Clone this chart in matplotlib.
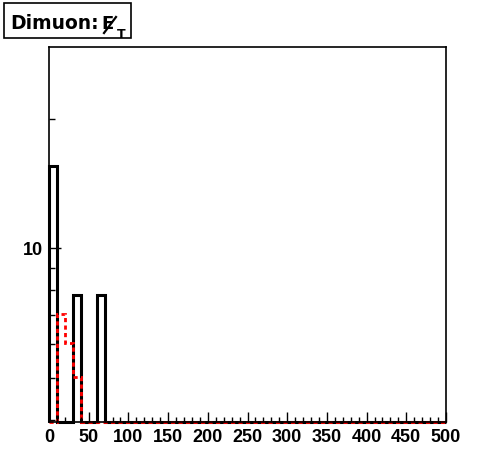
import matplotlib.pyplot as plt
import matplotlib.patches as patches
from matplotlib.lines import Line2D
from matplotlib.ticker import FixedLocator, NullFormatter, FixedFormatter
import numpy as np

plt.rcParams['font.family'] = ['Liberation Sans', 'DejaVu Sans']
plt.rcParams['font.weight'] = 'bold'

# ヒストグラムのデータ（ビン幅10、0〜500）
bin_edges = np.arange(0, 510, 10)
black_counts = np.zeros(50)
black_counts[0] = 15.5
black_counts[3] = 7.8
black_counts[6] = 7.8
red_counts = np.zeros(50)
red_counts[1] = 7.05
red_counts[2] = 6.05
red_counts[3] = 5.03

y_min, y_max = 3.96, 29.3
x_major = [0, 50, 100, 150, 200, 250, 300, 350, 400, 450, 500]
y_major = [10]
y_minor = [4, 5, 6, 7, 8, 9, 20]

W, H = 496, 472
fig = plt.figure(figsize=(W / 100, H / 100), dpi=100)
ax = fig.add_axes([49 / W, 50 / H, 397 / W, 375 / H])
ax.set_yscale('log')

# ゼロのビンは下端に描く（ROOT風）
black_plot = np.where(black_counts > 0, black_counts, y_min)
red_plot = np.where(red_counts > 0, red_counts, y_min)
ax.stairs(black_plot, bin_edges, baseline=y_min, color='black', lw=2.2, clip_on=False)
ax.stairs(red_plot, bin_edges, baseline=y_min, color='red', lw=2.0,
          linestyle=(0, (1.5, 1.2)), clip_on=False)

ax.set_xlim(0, 500)
ax.set_ylim(y_min, y_max)

ax.xaxis.set_major_locator(FixedLocator(x_major))
ax.xaxis.set_minor_locator(FixedLocator([v for v in range(0, 501, 10) if v % 50]))
ax.yaxis.set_major_locator(FixedLocator(y_major))
ax.yaxis.set_major_formatter(FixedFormatter(['10']))
ax.yaxis.set_minor_locator(FixedLocator(y_minor))
ax.yaxis.set_minor_formatter(NullFormatter())

ax.tick_params(axis='x', which='major', direction='in', length=7.5, width=1, labelsize=13, pad=5)
ax.tick_params(axis='x', which='minor', direction='in', length=3.7, width=1)
ax.tick_params(axis='y', which='major', direction='in', length=8.6, width=1, labelsize=13, pad=4)
ax.tick_params(axis='y', which='minor', direction='in', length=4.3, width=1)
for lab in ax.get_xticklabels() + ax.get_yticklabels():
    lab.set_fontweight('bold')
for s in ax.spines.values():
    s.set_linewidth(1.2)


def fx(px):
    return px / W


def fy(py):
    return 1 - py / H


# タイトルの枠と文字
fig.patches.append(patches.Rectangle((fx(4), fy(38)), 127 / W, 35 / H,
                                     transform=fig.transFigure, fill=False,
                                     edgecolor='black', lw=1.2))
title_font = ['DejaVu Sans']
fig.text(fx(10), fy(29), 'Dimuon:', fontsize=13.5, fontweight='bold',
         family=title_font, va='baseline')
fig.text(fx(101.5), fy(29), 'E', fontsize=13, fontweight='bold',
         family=title_font, va='baseline')
fig.lines.append(Line2D([fx(104), fx(116)], [fy(33), fy(17)], transform=fig.transFigure,
                        color='black', lw=1.6))
fig.text(fx(116.5), fy(38), 'T', fontsize=9, fontweight='bold',
         family=title_font, va='baseline')

fig.savefig('out.png', dpi=100)
